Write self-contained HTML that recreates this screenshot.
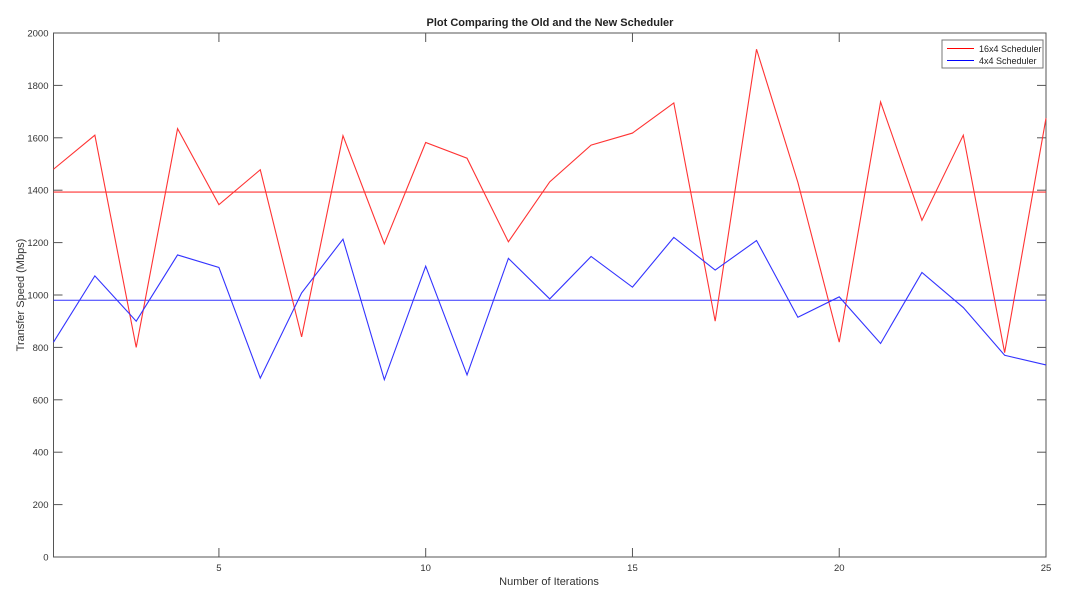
<!DOCTYPE html>
<html><head><meta charset="utf-8"><style>
body{margin:0;background:#fff;}
svg{display:block;font-family:"Liberation Sans",sans-serif;}
</style></head><body>
<svg id="chart" width="1083" height="602">
<text x="550" y="26" text-anchor="middle" font-size="11" font-weight="bold" fill="#222">Plot Comparing the Old and the New Scheduler</text>
<text x="549" y="585" text-anchor="middle" font-size="11" fill="#333">Number of Iterations</text>
<text transform="translate(24,295) rotate(-90)" text-anchor="middle" font-size="11" fill="#333">Transfer Speed (Mbps)</text>
<g id="axes"></g>
<g id="series"></g>
<g>
<rect x="942" y="40" width="101" height="28" fill="#fff" stroke="#777" stroke-width="1"/>
<line x1="947" y1="48.5" x2="974" y2="48.5" stroke="#f00"/>
<text x="979" y="52" font-size="9" fill="#222">16x4 Scheduler</text>
<line x1="947" y1="60.5" x2="974" y2="60.5" stroke="#00f"/>
<text x="979" y="64" font-size="9" fill="#222">4x4 Scheduler</text>
</g>
</svg>
<script>
const iterations=[1,2,3,4,5,6,7,8,9,10,11,12,13,14,15,16,17,18,19,20,21,22,23,24,25];
const red16x4=[1480,1610,800,1635,1345,1478,840,1608,1195,1582,1522,1203,1432,1572,1618,1733,900,1938,1430,820,1737,1285,1610,780,1675];
const blue4x4=[820,1073,900,1153,1105,683,1008,1213,677,1110,695,1140,985,1147,1030,1220,1095,1208,915,993,815,1086,952,770,733];
const redMean=[1393];
const blueMean=[980];
const xTicks=[5,10,15,20,25];
const yTicks=[0,200,400,600,800,1000,1200,1400,1600,1800,2000];
const L=53.5,R=1046,T=33,B=557;
const xs=v=>L+(v-1)*(R-L)/24;
const ys=v=>B-v*(B-T)/2000;
const NS="http://www.w3.org/2000/svg";
function mk(tag,attrs,parent){const e=document.createElementNS(NS,tag);for(const k in attrs)e.setAttribute(k,attrs[k]);parent.appendChild(e);return e;}
const ax=document.getElementById('axes');
let box=mk('rect',{x:L,y:T,width:R-L,height:B-T,fill:'none',stroke:'#555','stroke-width':1},ax);


yTicks.forEach(v=>{const y=ys(v);
mk('line',{x1:L,y1:y,x2:L+9,y2:y,stroke:'#555'},ax);
mk('line',{x1:R,y1:y,x2:R-9,y2:y,stroke:'#555'},ax);
const t=mk('text',{x:L-5,y:y+3.5,'text-anchor':'end','font-size':'9.5',fill:'#333'},ax);t.textContent=v;

});
xTicks.forEach(v=>{const x=xs(v);
mk('line',{x1:x,y1:B,x2:x,y2:B-9,stroke:'#555'},ax);
mk('line',{x1:x,y1:T,x2:x,y2:T+9,stroke:'#555'},ax);
const t=mk('text',{x:x,y:B+14,'text-anchor':'middle','font-size':'9.5',fill:'#333'},ax);t.textContent=v;

});
const sg=document.getElementById('series');
function line(vals,color,name){const p=mk('polyline',{points:vals.map((v,i)=>xs(iterations[i])+','+ys(v)).join(' '),fill:'none',stroke:color,'stroke-width':1.1},sg);

}
function hline(v,color,name){const l=mk('line',{x1:L,x2:R,y1:ys(v),y2:ys(v),stroke:color,'stroke-width':1.1},sg);

}
hline(redMean[0],'#f33','mean-line-16x4');
hline(blueMean[0],'#33f','mean-line-4x4');
line(red16x4,'#f33','series-16x4');
line(blue4x4,'#33f','series-4x4');
</script>
</body></html>
